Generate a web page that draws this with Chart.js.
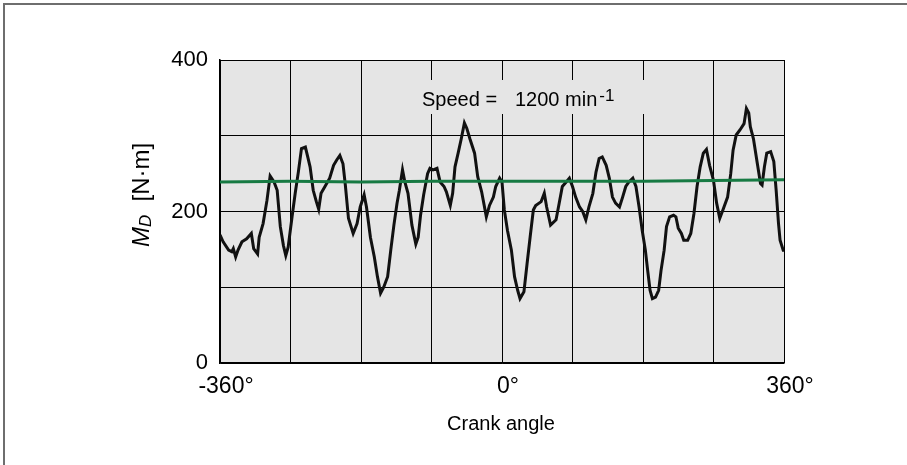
<!DOCTYPE html>
<html lang="en">
  <head>
    <meta charset="utf-8">
    <title>Crank torque</title>
    <script src="https://cdn.jsdelivr.net/npm/chart.js@4.4.1/dist/chart.umd.min.js"></script>
    <style>
      body { margin: 0; background: #fff; }
      canvas { display: block; }
    </style>
  </head>
  <body>
    <canvas id="chart" width="907" height="465"></canvas>
    <script>
      // torque over two crank revolutions at 1200 min-1
      const crankAngle = [
        -360, -356, -349, -345, -343, -340, -337, -332, -326, -320, -317, -312, -310, -305, -300,
        -296, -291, -287, -283, -279, -276, -273, -268, -264, -260, -256, -251, -248, -245, -241,
        -237, -234, -231, -226, -220, -215, -211, -207, -203, -200, -196, -190, -185, -181, -176,
        -173, -168, -163, -159, -155, -151, -146, -142, -138, -134, -131, -127, -124, -120, -115,
        -110, -107, -104, -100, -95, -92, -88, -83, -79, -74, -71, -66, -63, -60, -56,
        -52, -48, -45, -41, -35, -31, -26, -20, -16, -11, -8, -3, 0, 3, 7,
        12, 16, 20, 23, 28, 32, 36, 40, 43, 50, 54, 57, 62, 69, 73,
        77, 82, 86, 90, 94, 99, 103, 107, 111, 116, 120, 124, 128, 133, 137,
        141, 145, 150, 154, 158, 162, 167, 171, 175, 179, 183, 186, 189, 192, 196,
        200, 203, 207, 210, 214, 219, 222, 225, 229, 232, 237, 241, 245, 249, 253,
        257, 261, 265, 270, 274, 278, 282, 288, 292, 295, 299, 304, 309, 312, 315,
        317, 321, 326, 330, 332, 335, 338, 343, 347, 350, 353, 355, 359, 360
      ];
      const torque = [
        169, 160, 149, 147, 151, 140, 149, 160, 164, 171, 151, 144, 166, 184, 215,
        247, 239, 228, 180, 155, 142, 153, 193, 224, 252, 283, 285, 272, 259, 228,
        213, 203, 224, 233, 244, 261, 268, 274, 263, 235, 191, 171, 184, 206, 222,
        206, 166, 140, 114, 92, 100, 114, 149, 182, 211, 228, 255, 239, 224, 182,
        157, 166, 195, 222, 250, 257, 255, 257, 239, 233, 226, 208, 224, 259, 277,
        296, 317, 310, 296, 277, 246, 226, 193, 208, 219, 233, 244, 239, 202, 175,
        149, 114, 96, 85, 94, 131, 167, 202, 208, 213, 224, 206, 182, 189, 211,
        233, 239, 244, 233, 219, 206, 200, 189, 206, 224, 252, 270, 272, 261, 244,
        219, 211, 206, 219, 233, 239, 244, 233, 206, 175, 149, 122, 96, 85, 87,
        96, 122, 149, 180, 193, 195, 193, 178, 171, 162, 162, 171, 197, 233, 259,
        277, 282, 261, 241, 211, 191, 202, 219, 250, 281, 301, 308, 316, 336, 330,
        312, 296, 263, 237, 235, 259, 277, 279, 266, 228, 184, 162, 149, 149
      ];

      // mean torque
      const meanAngle = [-360, -270, -180, -90, 0, 90, 180, 270, 360];
      const meanTorque = [239, 240, 239, 240, 240, 240, 240, 241, 242];

      const xTickLabels = { '-360': '-360°', '0': '0°', '360': '360°' };
      const yTickLabels = { '0': '0', '200': '200', '400': '400' };

      const FONT = '"Liberation Sans", Arial, Helvetica, sans-serif';

      const plotBg = {
        id: 'plotBg',
        beforeDraw(chart) {
          const { ctx, chartArea: a } = chart;
          ctx.save();
          ctx.fillStyle = '#fff';
          ctx.fillRect(0, 0, chart.width, chart.height);
          // frame lines on top and left of the figure
          ctx.strokeStyle = '#6e6e6e';
          ctx.lineWidth = 2;
          ctx.beginPath();
          ctx.moveTo(4, chart.height);
          ctx.lineTo(4, 4);
          ctx.lineTo(chart.width, 4);
          ctx.stroke();
          ctx.fillStyle = '#e5e5e5';
          ctx.fillRect(a.left, a.top, a.right - a.left, a.bottom - a.top);
          ctx.restore();
        },
        beforeDatasetsDraw(chart) {
          // blank box behind the speed note
          const { ctx } = chart;
          ctx.save();
          ctx.fillStyle = '#e5e5e5';
          ctx.fillRect(408, 80, 244, 34);
          ctx.fillStyle = '#000';
          ctx.textBaseline = 'alphabetic';
          ctx.textAlign = 'left';
          ctx.font = '20px ' + FONT;
          ctx.fillText('Speed =', 422, 106);
          ctx.fillText('1200 min', 515, 106);
          const end = 515 + ctx.measureText('1200 min').width;
          ctx.font = '17px ' + FONT;
          ctx.fillText('-1', end + 2, 101);
          ctx.restore();
        },
        afterDraw(chart) {
          const { ctx } = chart;
          ctx.save();
          ctx.fillStyle = '#000';
          ctx.textBaseline = 'alphabetic';
          // x axis title
          ctx.textAlign = 'center';
          ctx.font = '20px ' + FONT;
          ctx.fillText('Crank angle', 501, 430);
          // y axis title, M with subscript D
          ctx.translate(149, 247);
          ctx.rotate(-Math.PI / 2);
          ctx.textAlign = 'left';
          ctx.font = 'italic 24px ' + FONT;
          ctx.fillText('M', 0, 0);
          let w = ctx.measureText('M').width;
          ctx.font = 'italic 17px ' + FONT;
          ctx.fillText('D', w, 2);
          w += ctx.measureText('D').width;
          ctx.font = '24px ' + FONT;
          ctx.fillText('  [N·m]', w, 0);
          ctx.restore();
        }
      };

      const ctx = document.getElementById('chart').getContext('2d');
      new Chart(ctx, {
        type: 'line',
        data: {
          datasets: [
            {
              label: 'mean',
              data: meanAngle.map((a, i) => ({ x: a, y: meanTorque[i] })),
              borderColor: '#177a43',
              borderWidth: 3,
              pointRadius: 0,
              tension: 0
            },
            {
              label: 'torque',
              data: crankAngle.map((a, i) => ({ x: a, y: torque[i] })),
              borderColor: '#111',
              borderWidth: 3,
              pointRadius: 0,
              tension: 0
            }
          ]
        },
        options: {
          responsive: false,
          animation: false,
          layout: { padding: { left: 0, top: 60, right: 123, bottom: 62 } },
          plugins: { legend: { display: false }, tooltip: { enabled: false } },
          scales: {
            x: {
              type: 'linear',
              min: -360,
              max: 360,
              afterFit(scale) { scale.height = 40; },
              grid: { color: '#000', lineWidth: 1, drawTicks: false },
              border: { color: '#000', width: 1.5 },
              ticks: {
                stepSize: 90,
                padding: 10,
                labelOffset: 6,
                maxRotation: 0,
                autoSkip: false,
                color: '#000',
                font: { family: FONT, size: 23 },
                callback: v => xTickLabels[String(v)] || ''
              }
            },
            y: {
              min: 0,
              max: 400,
              afterFit(scale) { scale.width = 220; },
              grid: { color: '#000', lineWidth: 1, drawTicks: false },
              border: { color: '#000', width: 1.5 },
              ticks: {
                stepSize: 100,
                padding: 12,
                color: '#000',
                font: { family: FONT, size: 22 },
                callback: v => yTickLabels[String(v)] || ''
              }
            }
          }
        },
        plugins: [plotBg]
      });
    </script>
  </body>
</html>
